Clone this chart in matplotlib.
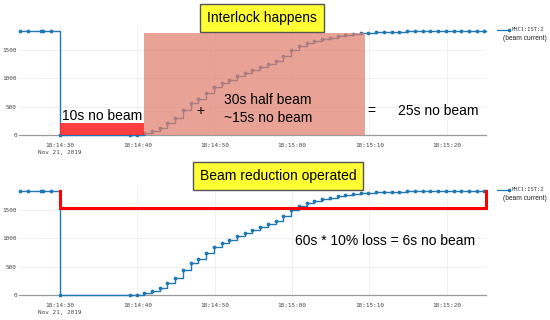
import matplotlib
matplotlib.use("Agg")
import matplotlib.pyplot as plt
from matplotlib.patches import Rectangle
from matplotlib.lines import Line2D

# seconds after 18:14:00 (Nov 21, 2019)
times = [24.8, 25.8, 27.6, 27.8, 28.8, 30.0, 39.0, 40.0,
         40.9, 41.9, 42.9, 43.9, 44.9, 45.9, 46.9, 47.9, 48.9, 49.9,
         50.9, 51.9, 52.9, 53.9, 54.9, 55.9, 56.9, 57.9, 58.9, 59.9,
         60.9, 61.9, 62.9, 63.9, 64.9, 65.9, 66.9, 67.9, 68.9, 69.9,
         70.9, 71.9, 72.9, 73.9, 74.9, 75.9, 76.9, 77.9, 78.9, 79.9,
         80.9, 81.9, 82.9, 83.9, 84.9]
current = [1828, 1828, 1828, 1828, 1828, 0, 0, 0,
           41, 70, 129, 205, 305, 440, 557, 627, 733, 835,
           908, 967, 1037, 1090, 1140, 1185, 1240, 1290, 1390, 1483,
           1553, 1613, 1653, 1690, 1710, 1735, 1755, 1772, 1785, 1795,
           1802, 1808, 1812, 1815, 1818, 1820, 1821, 1822, 1823, 1824,
           1825, 1826, 1826, 1827, 1827]

tick_secs = [30, 40, 50, 60, 70, 80]
tick_labels = ["18:14:30\nNov 21, 2019", "18:14:40", "18:14:50",
               "18:15:00", "18:15:10", "18:15:20"]
ytick_vals = [0, 500, 1000, 1500]

# annotation values
nobeam_start, nobeam_end, nobeam_level = 30.0, 40.87, 205
half_start, half_end, half_top = 40.87, 69.5, 1784
reduced_level = 1530

XLIM = (24.7, 85.1)
YLIM = (0, 1930)

fig = plt.figure(figsize=(5.5, 3.2), dpi=100)
TXT = ["Liberation Sans", "DejaVu Sans"]
MONO = ["DejaVu Sans Mono"]
FS = 10


def base_axes(rect):
    ax = fig.add_axes(rect)
    ax.set_xlim(*XLIM)
    ax.set_ylim(*YLIM)
    ax.set_xticks(tick_secs)
    ax.set_xticklabels(tick_labels, fontsize=4.3, family=MONO, color="#444444",
                       linespacing=1.35)
    ax.set_yticks(ytick_vals)
    ax.set_yticklabels([str(v) for v in ytick_vals], fontsize=4.3, family=MONO,
                       color="#444444")
    ax.tick_params(axis="x", length=0, pad=6)
    ax.tick_params(axis="y", length=0, pad=1.5)
    ax.grid(True, color="#eeeeee", linewidth=0.6)
    ax.set_axisbelow(True)
    for s in ["top", "right", "left"]:
        ax.spines[s].set_visible(False)
    ax.spines["bottom"].set_color("#9a9a9a")
    ax.spines["bottom"].set_linewidth(0.9)
    ax.plot(times + [85.1], current + [current[-1]], drawstyle="steps-post",
            color="#1f77b4", lw=1.0, zorder=3, clip_on=False)
    ax.plot(times, current, "o", color="#1f77b4", ms=1.7, zorder=3, clip_on=False)
    return ax


def legend(ytop):
    fig.add_artist(Line2D([497 / 550, 509 / 550], [1 - ytop / 320] * 2,
                          color="#1f77b4", lw=0.9, marker="o", ms=1.6,
                          markevery=[1], transform=fig.transFigure))
    fig.text(512 / 550, 1 - ytop / 320, "MHC1:IST:2", fontsize=4.0, family=MONO,
             color="#444444", va="center", ha="left")
    fig.text(525 / 550, 1 - (ytop + 8.5) / 320, "(beam current)", fontsize=4.8,
             family=TXT, color="#222222", va="center", ha="center")


# ---------- top chart ----------
ax1 = base_axes([19 / 550, 1 - 135 / 320, 467 / 550, 110 / 320])
ax1.add_patch(Rectangle((half_start, 0), half_end - half_start, half_top,
                        facecolor=(0.88, 0.50, 0.43), alpha=0.72,
                        edgecolor="none", zorder=4))
ax1.add_patch(Rectangle((nobeam_start, 0), nobeam_end - nobeam_start, nobeam_level,
                        facecolor="#ff2a2a", alpha=0.9, edgecolor="none", zorder=4))
legend(29.5)

fig.text(262 / 550, 1 - 18 / 320, "Interlock happens", fontsize=FS, family=TXT,
         ha="center", va="center", color="black",
         bbox=dict(boxstyle="square,pad=0.5", facecolor="#ffff33",
                   edgecolor="#555555", linewidth=1.0))
fig.text(62 / 550, 1 - 116 / 320, "10s no beam", fontsize=FS, family=TXT,
         ha="left", va="center")
fig.text(200 / 550, 1 - 111 / 320, "+", fontsize=FS, family=TXT,
         ha="center", va="center")
fig.text(224 / 550, 1 - 100.5 / 320, "30s half beam", fontsize=FS, family=TXT,
         ha="left", va="center")
fig.text(224 / 550, 1 - 117.5 / 320, "~15s no beam", fontsize=FS, family=TXT,
         ha="left", va="center")
fig.text(371 / 550, 1 - 111 / 320, "=", fontsize=FS, family=TXT,
         ha="center", va="center")
fig.text(398 / 550, 1 - 111 / 320, "25s no beam", fontsize=FS, family=TXT,
         ha="left", va="center")

# ---------- bottom chart ----------
ax2 = base_axes([19 / 550, 1 - 295 / 320, 467 / 550, 110 / 320])
ax2.plot([nobeam_start, nobeam_start, 85.1, 85.1],
         [current[0], reduced_level, reduced_level, current[-1]],
         color="#ff0000", lw=2.2, zorder=5, clip_on=False, solid_joinstyle="miter")
legend(189.5)

fig.text(278 / 550, 1 - 176 / 320, "Beam reduction operated", fontsize=FS,
         family=TXT, ha="center", va="center", color="black",
         bbox=dict(boxstyle="square,pad=0.5", facecolor="#ffff33",
                   edgecolor="#555555", linewidth=1.0))
fig.text(295 / 550, 1 - 241 / 320, "60s * 10% loss = 6s no beam", fontsize=FS,
         family=TXT, ha="left", va="center")

fig.savefig("out.png", dpi=100, facecolor="white")
